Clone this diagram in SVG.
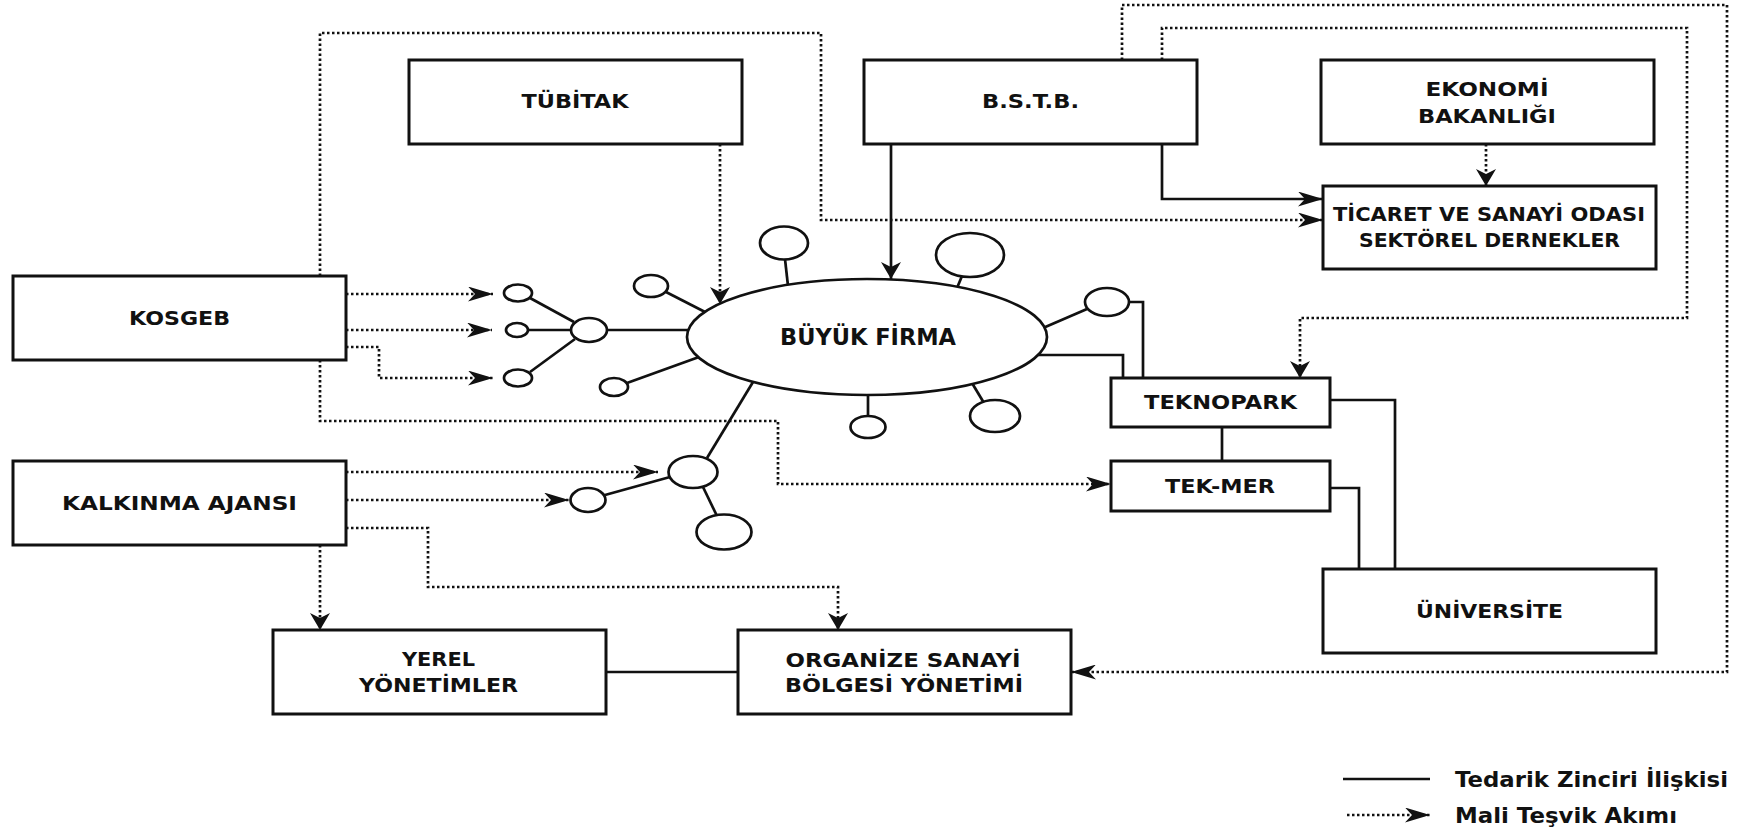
<svg xmlns="http://www.w3.org/2000/svg" width="1749" height="832" viewBox="0 0 1749 832">
<style>
.box{fill:#fff;stroke:#111;stroke-width:3}
.sat{fill:#fff;stroke:#111;stroke-width:2.7}
.t{font-family:"DejaVu Sans","Liberation Sans",sans-serif;font-weight:bold;font-size:20px;fill:#111;text-anchor:middle}
.big{font-size:23px}
.lg{font-family:"DejaVu Sans","Liberation Sans",sans-serif;font-weight:bold;font-size:22px;fill:#111}
.s{fill:none;stroke:#111;stroke-width:2.7}
.d{fill:none;stroke:#111;stroke-width:2.7;stroke-dasharray:2.5 2.5}
</style>
<defs>
<marker id="ah" markerUnits="userSpaceOnUse" viewBox="0 0 25 15" markerWidth="25" markerHeight="15" refX="25" refY="7.5" orient="auto">
<path d="M0,0 L25,7.5 L0,15 L7,7.5 Z" fill="#111"/>
</marker>
<marker id="av" markerUnits="userSpaceOnUse" viewBox="0 0 17 20" markerWidth="17" markerHeight="20" refX="17" refY="10" orient="auto">
<path d="M0,0 L17,10 L0,20 L5,10 Z" fill="#111"/>
</marker>
</defs>
<rect width="1749" height="832" fill="#fff"/>

<g id="connectors">
<!-- supply chain (solid) -->
<path class="s" d="M891,144 V279" marker-end="url(#av)"/>
<path class="s" d="M1162,144 V199 H1323" marker-end="url(#ah)"/>
<path class="s" d="M1036,355 H1123 V378"/>
<path class="s" d="M1129,302 H1143 V378"/>
<path class="s" d="M1222,427 V461"/>
<path class="s" d="M1330,400 H1395 V569"/>
<path class="s" d="M1330,488 H1359 V569"/>
<path class="s" d="M606,672 H738"/>
<!-- financial flows (dotted) -->
<path class="d" d="M320,276 V33 H821 V220 H1323" marker-end="url(#ah)"/>
<path class="d" d="M320,360 V421 H778 V484 H1111" marker-end="url(#ah)"/>
<path class="d" d="M346,294 H493" marker-end="url(#ah)"/>
<path class="d" d="M346,330 H492" marker-end="url(#ah)"/>
<path class="d" d="M346,347 H379 V378 H493" marker-end="url(#ah)"/>
<path class="d" d="M346,472 H658" marker-end="url(#ah)"/>
<path class="d" d="M346,500 H569" marker-end="url(#ah)"/>
<path class="d" d="M346,528 H428 V587 H838 V630" marker-end="url(#av)"/>
<path class="d" d="M320,545 V630" marker-end="url(#av)"/>
<path class="d" d="M720,144 V304" marker-end="url(#av)"/>
<path class="d" d="M1486,144 V186" marker-end="url(#av)"/>
<path class="d" d="M1122,60 V5 H1727 V672 H1071" marker-end="url(#ah)"/>
<path class="d" d="M1162,60 V28 H1687 V318 H1300 V378" marker-end="url(#av)"/>
</g>

<g id="firm-cluster">
<g class="s">
<path d="M530,298 L574,322"/>
<path d="M528,330 L571,330"/>
<path d="M530,372 L575,339"/>
<path d="M607,330 L690,330"/>
<path d="M666,292 L707,313"/>
<path d="M627,383 L699,357"/>
<path d="M707,458 L753,382"/>
<path d="M605,495 L670,477"/>
<path d="M703,487 L717,516"/>
<path d="M785,259 L788,286"/>
<path d="M962,276 L957,288"/>
<path d="M1087,309 L1043,328"/>
<path d="M868,395 L868,416"/>
<path d="M972,383 L984,403"/>
</g>
<ellipse id="sat-a" class="sat" cx="518" cy="293" rx="14" ry="8.5"/>
<ellipse id="sat-b" class="sat" cx="517" cy="330" rx="11" ry="7"/>
<ellipse id="sat-c" class="sat" cx="518" cy="378" rx="14" ry="8.5"/>
<ellipse id="hub-1" class="sat" cx="589" cy="330" rx="18" ry="12"/>
<ellipse id="sat-d" class="sat" cx="651" cy="286" rx="17" ry="11"/>
<ellipse id="sat-e" class="sat" cx="614" cy="387" rx="14" ry="9"/>
<ellipse id="sat-f" class="sat" cx="588" cy="500" rx="17.5" ry="12"/>
<ellipse id="hub-2" class="sat" cx="693" cy="472" rx="24.5" ry="16"/>
<ellipse id="sat-g" class="sat" cx="724" cy="532" rx="27.5" ry="17.5"/>
<ellipse id="sat-h" class="sat" cx="784" cy="243" rx="24" ry="16.5"/>
<ellipse id="sat-i" class="sat" cx="970" cy="255" rx="34" ry="22"/>
<ellipse id="sat-j" class="sat" cx="1107" cy="302" rx="22" ry="14"/>
<ellipse id="sat-k" class="sat" cx="868" cy="427" rx="17.5" ry="11"/>
<ellipse id="sat-l" class="sat" cx="995" cy="416" rx="25" ry="16"/>
</g>

<g id="buyuk-firma">
<ellipse class="sat" cx="867" cy="337" rx="180" ry="58"/>
<text class="t big" x="868" y="345" textLength="176" lengthAdjust="spacingAndGlyphs">BÜYÜK FİRMA</text>
</g>

<g id="tubitak">
<rect class="box" x="409" y="60" width="333" height="84"/>
<text class="t" x="575" y="108" textLength="107" lengthAdjust="spacingAndGlyphs">TÜBİTAK</text>
</g>
<g id="bstb">
<rect class="box" x="864" y="60" width="333" height="84"/>
<text class="t" x="1030.5" y="108" textLength="97" lengthAdjust="spacingAndGlyphs">B.S.T.B.</text>
</g>
<g id="ekonomi">
<rect class="box" x="1321" y="60" width="333" height="84"/>
<text class="t" x="1487" y="96" textLength="123" lengthAdjust="spacingAndGlyphs">EKONOMİ</text>
<text class="t" x="1487" y="123" textLength="138" lengthAdjust="spacingAndGlyphs">BAKANLIĞI</text>
</g>
<g id="ticaret">
<rect class="box" x="1323" y="186" width="333" height="83"/>
<text class="t" x="1489" y="221" textLength="312" lengthAdjust="spacingAndGlyphs">TİCARET VE SANAYİ ODASI</text>
<text class="t" x="1489.5" y="247" textLength="261" lengthAdjust="spacingAndGlyphs">SEKTÖREL DERNEKLER</text>
</g>
<g id="kosgeb">
<rect class="box" x="13" y="276" width="333" height="84"/>
<text class="t" x="179.5" y="325" textLength="101" lengthAdjust="spacingAndGlyphs">KOSGEB</text>
</g>
<g id="kalkinma">
<rect class="box" x="13" y="461" width="333" height="84"/>
<text class="t" x="179.5" y="510" textLength="235" lengthAdjust="spacingAndGlyphs">KALKINMA AJANSI</text>
</g>
<g id="teknopark">
<rect class="box" x="1111" y="378" width="219" height="49"/>
<text class="t" x="1220.5" y="409" textLength="153" lengthAdjust="spacingAndGlyphs">TEKNOPARK</text>
</g>
<g id="tekmer">
<rect class="box" x="1111" y="461" width="219" height="50"/>
<text class="t" x="1220" y="493" textLength="110" lengthAdjust="spacingAndGlyphs">TEK-MER</text>
</g>
<g id="universite">
<rect class="box" x="1323" y="569" width="333" height="84"/>
<text class="t" x="1489.5" y="618" textLength="147" lengthAdjust="spacingAndGlyphs">ÜNİVERSİTE</text>
</g>
<g id="yerel">
<rect class="box" x="273" y="630" width="333" height="84"/>
<text class="t" x="438.5" y="666" textLength="73" lengthAdjust="spacingAndGlyphs">YEREL</text>
<text class="t" x="438.5" y="692" textLength="159" lengthAdjust="spacingAndGlyphs">YÖNETİMLER</text>
</g>
<g id="organize">
<rect class="box" x="738" y="630" width="333" height="84"/>
<text class="t" x="903" y="667" textLength="235" lengthAdjust="spacingAndGlyphs">ORGANİZE SANAYİ</text>
<text class="t" x="904" y="692" textLength="238" lengthAdjust="spacingAndGlyphs">BÖLGESİ YÖNETİMİ</text>
</g>

<g id="legend">
<path class="s" d="M1343,779 H1430"/>
<text class="lg" x="1455" y="787" textLength="273" lengthAdjust="spacingAndGlyphs">Tedarik Zinciri İlişkisi</text>
<path class="d" d="M1347,815 H1430" marker-end="url(#ah)"/>
<text class="lg" x="1455" y="823" textLength="222" lengthAdjust="spacingAndGlyphs">Mali Teşvik Akımı</text>
</g>
</svg>
